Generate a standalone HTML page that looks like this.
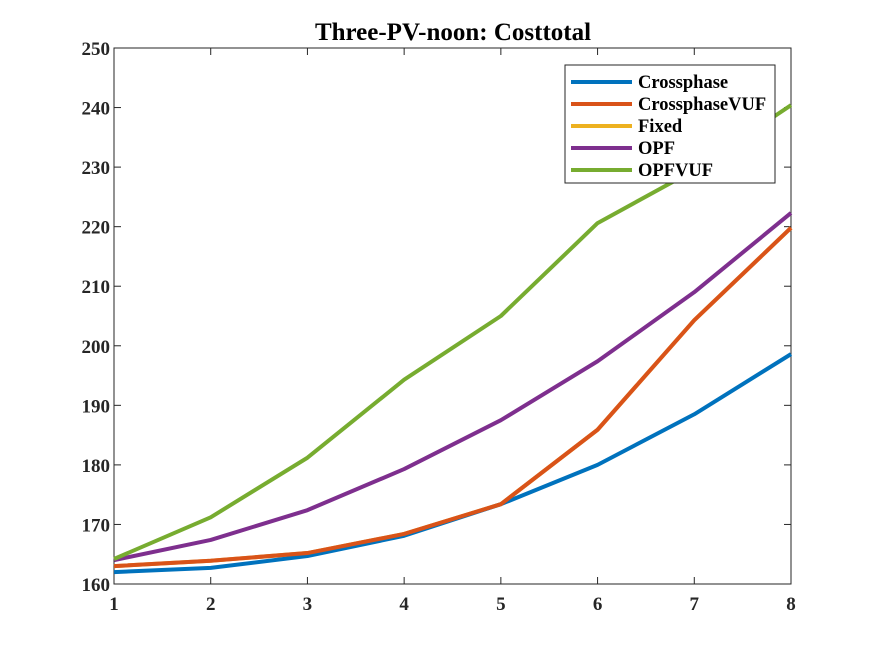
<!DOCTYPE html>
<html><head><meta charset="utf-8"><style>
body{margin:0;background:#fff}
text{font-family:"Liberation Serif",serif;font-weight:bold}
</style></head><body>
<svg id="chart" width="875" height="656" xmlns="http://www.w3.org/2000/svg">
<rect width="875" height="656" fill="#fff"/>
<text x="453" y="40" font-size="25" text-anchor="middle">Three-PV-noon: Costtotal</text>
<g id="axes"></g>
<g id="series"></g>
<g id="legend"></g>
</svg>
<script>
const categories=[1,2,3,4,5,6,7,8];
const yTicks=[160,170,180,190,200,210,220,230,240,250];
const seriesNames=["Crossphase","CrossphaseVUF","Fixed","OPF","OPFVUF"];
const seriesColors=["#0072BD","#D95319","#EDB120","#7E2F8E","#77AC30"];
const crossphase=[162.0,162.7,164.7,168.1,173.4,180.0,188.5,198.6];
const crossphaseVUF=[163.0,163.9,165.2,168.4,173.4,185.9,204.3,219.8];
const fixed=[163.0,163.9,165.2,168.4,173.4,185.9,204.3,219.8];
const opf=[164.0,167.4,172.4,179.3,187.5,197.4,209.0,222.3];
const opfvuf=[164.2,171.2,181.2,194.3,205.0,220.6,229.5,240.4];
const seriesData=[crossphase,crossphaseVUF,fixed,opf,opfvuf];
const L=114,R=791,T=48,B=584;
const xs=v=>L+(v-1)/(8-1)*(R-L);
const ys=v=>B-(v-160)/(250-160)*(B-T);
const NS="http://www.w3.org/2000/svg";
function mk(tag,attrs,parent){const e=document.createElementNS(NS,tag);for(const k in attrs)e.setAttribute(k,attrs[k]);parent.appendChild(e);return e;}
const ax=document.getElementById('axes');
const frame=mk('rect',{x:L,y:T,width:R-L,height:B-T,fill:'none',stroke:'#262626','stroke-width':1},ax);


categories.forEach(c=>{
 const x=xs(c);
 mk('line',{x1:x,y1:B,x2:x,y2:B-7,stroke:'#262626'},ax);
 mk('line',{x1:x,y1:T,x2:x,y2:T+7,stroke:'#262626'},ax);
 const t=mk('text',{x:x,y:B+26,'font-size':19,'text-anchor':'middle',fill:'#262626'},ax);
 t.textContent=c;
 
 
});
yTicks.forEach(v=>{
 const y=ys(v);
 mk('line',{x1:L,y1:y,x2:L+7,y2:y,stroke:'#262626'},ax);
 mk('line',{x1:R,y1:y,x2:R-7,y2:y,stroke:'#262626'},ax);
 const t=mk('text',{x:L-4,y:y+7,'font-size':19,'text-anchor':'end',fill:'#262626'},ax);
 t.textContent=v;
 
 
});
const sg=document.getElementById('series');
const order=[2,0,1,3,4];
order.forEach(i=>{
 const d=seriesData[i].map((v,j)=>(j?'L':'M')+xs(categories[j])+' '+ys(v)).join(' ');
 const p=mk('path',{d:d,fill:'none',stroke:seriesColors[i],'stroke-width':4,'stroke-linejoin':'round'},sg);
 
 
});
const lg=document.getElementById('legend');
const box=mk('rect',{x:565,y:65,width:210,height:118,fill:'#fff',stroke:'#262626','stroke-width':1},lg);


seriesNames.forEach((n,i)=>{
 const y=82+i*22;
 const l=mk('line',{x1:571,y1:y,x2:632,y2:y,stroke:seriesColors[i],'stroke-width':4},lg);
 
 
 const t=mk('text',{x:638,y:y+6,'font-size':18.5,fill:'#000'},lg);
 t.textContent=n;
 
 
});
</script>
</body></html>
